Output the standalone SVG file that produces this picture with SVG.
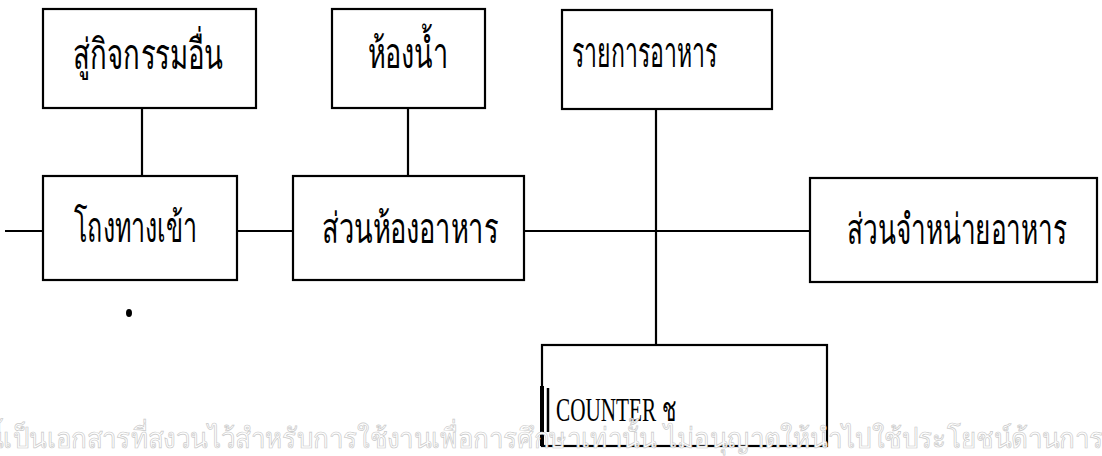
<svg xmlns="http://www.w3.org/2000/svg" width="1102" height="456" viewBox="0 0 1102 456">
<style>
.box{fill:#fff;stroke:#000;stroke-width:2.2}
.ln{stroke:#000;stroke-width:2.2;fill:none}
.th{font-family:"Noto Sans","DejaVu Sans",sans-serif;font-size:42px;fill:#000}
.en{font-family:"Liberation Serif","Noto Sans",serif;font-size:34px;fill:#000}
.wm{font-family:"Noto Sans","DejaVu Sans",sans-serif;font-size:28px;fill:#fff;stroke:#c8c8c8;stroke-width:0.7}
</style>
<rect width="1102" height="456" fill="#fff"/>
<g id="connectors">
<line class="ln" x1="142" y1="108" x2="142" y2="176"/>
<line class="ln" x1="408" y1="108" x2="408" y2="176"/>
<line class="ln" x1="656" y1="109" x2="656" y2="345"/>
<line class="ln" x1="5" y1="231" x2="43" y2="231"/>
<line class="ln" x1="237" y1="231" x2="293" y2="231"/>
<line class="ln" x1="524" y1="231" x2="810" y2="231"/>
</g>
<g id="n1"><rect class="box" x="43" y="9" width="213" height="99"/><text class="th" transform="translate(73,69) scale(0.66,1)" textLength="227" lengthAdjust="spacingAndGlyphs">สู่กิจกรรมอื่น</text></g>
<g id="n2"><rect class="box" x="332" y="9" width="153" height="99"/><text class="th" transform="translate(368,68) scale(0.66,1)" textLength="121" lengthAdjust="spacingAndGlyphs">ห้องน้ำ</text></g>
<g id="n3"><rect class="box" x="562" y="10" width="210" height="99"/><text class="th" transform="translate(572,67) scale(0.66,1)" textLength="220" lengthAdjust="spacingAndGlyphs">รายการอาหาร</text></g>
<g id="n4"><rect class="box" x="43" y="176" width="194" height="104"/><text class="th" transform="translate(74,242) scale(0.66,1)" textLength="186" lengthAdjust="spacingAndGlyphs">โถงทางเข้า</text></g>
<g id="n5"><rect class="box" x="293" y="176" width="231" height="104"/><text class="th" transform="translate(322,243) scale(0.66,1)" textLength="267" lengthAdjust="spacingAndGlyphs">ส่วนห้องอาหาร</text></g>
<g id="n6"><rect class="box" x="810" y="178" width="287" height="104"/><text class="th" transform="translate(847,244) scale(0.66,1)" textLength="333" lengthAdjust="spacingAndGlyphs">ส่วนจำหน่ายอาหาร</text></g>
<g id="n7"><rect class="box" x="542" y="345" width="285" height="101"/>
<line class="ln" x1="542" y1="386" x2="542" y2="446" style="stroke-width:4"/>
<line class="ln" x1="548" y1="388" x2="548" y2="432" style="stroke-width:2.5"/>
<text class="en" transform="translate(556,421) scale(0.63,1)" textLength="190" lengthAdjust="spacingAndGlyphs">COUNTER ช</text></g>
<ellipse cx="129" cy="313" rx="3" ry="4" fill="#000"/>
<text class="wm" transform="translate(-14,448) scale(0.8,1)" textLength="1397" lengthAdjust="spacingAndGlyphs">นี้เป็นเอกสารที่สงวนไว้สำหรับการใช้งานเพื่อการศึกษาเท่านั้น ไม่อนุญาตให้นำไปใช้ประโยชน์ด้านการ</text>
</svg>
